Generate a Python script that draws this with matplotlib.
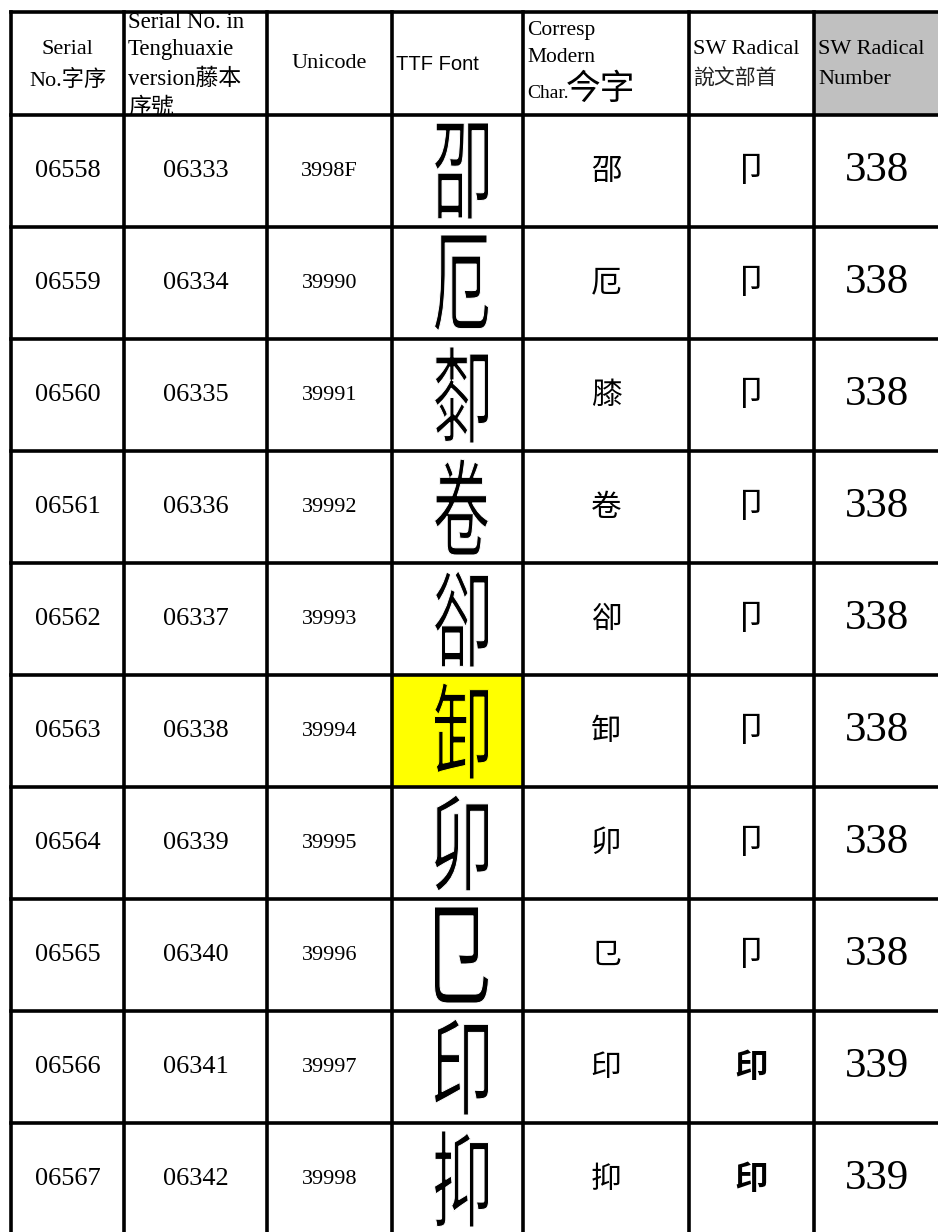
import matplotlib
matplotlib.use("Agg")
import matplotlib.pyplot as plt
from matplotlib.patches import Rectangle, PathPatch
from matplotlib.textpath import TextPath
from matplotlib.font_manager import FontProperties
from matplotlib.transforms import Affine2D

# table data
serial_no = ["06558", "06559", "06560", "06561", "06562",
             "06563", "06564", "06565", "06566", "06567"]
teng_no = ["06333", "06334", "06335", "06336", "06337",
           "06338", "06339", "06340", "06341", "06342"]
unicode_pts = ["3998F", "39990", "39991", "39992", "39993",
               "39994", "39995", "39996", "39997", "39998"]
seal_chars = ["卲", "厄", "厀", "卷", "卻", "卸", "卯", "㔾", "印", "抑"]  # stand-ins for the seal glyphs
modern_chars = ["邵", "厄", "膝", "卷", "卻", "卸", "卯", "㔾", "印", "抑"]
sw_radical = ["卩", "卩", "卩", "卩", "卩", "卩", "卩", "卩", "印", "印"]
radical_num = [338, 338, 338, 338, 338, 338, 338, 338, 339, 339]
highlight_row = 5

col_x = [11, 124, 267, 392, 523, 689, 814, 940]
top, head_bot, row_h = 12, 115, 112

SERIF = ["Liberation Serif", "Noto Sans CJK TC", "DejaVu Sans"]
SANS = ["Liberation Sans", "Noto Sans CJK TC", "DejaVu Sans"]
CJK = ["Noto Sans CJK TC", "DejaVu Sans"]

fig = plt.figure(figsize=(9.38, 12.32), dpi=100)
ax = fig.add_axes([0, 0, 1, 1])
ax.set_xlim(0, 938)
ax.set_ylim(1232, 0)
ax.axis("off")

n = len(serial_no)
row_tops = [head_bot + i * row_h for i in range(n)]
bottom = head_bot + n * row_h

# header shading
ax.add_patch(Rectangle((col_x[6], top), col_x[7] - col_x[6], head_bot - top,
                       facecolor="#c0c0c0", edgecolor="none", zorder=0))
ax.add_patch(Rectangle((col_x[3], row_tops[highlight_row]), col_x[4] - col_x[3], row_h,
                       facecolor="#ffff00", edgecolor="none", zorder=0))

def cx(c):
    return (col_x[c] + col_x[c + 1]) / 2

def head_text(x, y, s, c, ha="center", fam=SERIF, size=16, **kw):
    t = ax.text(x, y, s, ha=ha, va="center", family=fam, fontsize=size, **kw)
    clip = Rectangle((col_x[c], top), col_x[c + 1] - col_x[c], head_bot - top,
                     transform=ax.transData, visible=False)
    ax.add_patch(clip)
    t.set_clip_path(clip)
    return t

# header
head_text(cx(0), 50, "Serial", 0)
head_text(cx(0), 80, "No.字序", 0)
for y, s in zip([22, 50, 79, 108], ["Serial No. in", "Tenghuaxie", "version藤本", "序號"]):
    head_text(col_x[1] + 4, y, s, 1, ha="left", size=16.5)
head_text(cx(2), 64, "Unicode", 2)
head_text(col_x[3] + 4, 64, "TTF Font", 3, ha="left", fam=SANS, size=14.5)
head_text(col_x[4] + 4, 31, "Corresp", 4, ha="left", size=15.5)
head_text(col_x[4] + 4, 58, "Modern", 4, ha="left", size=15.5)
head_text(col_x[4] + 4, 93, "Char.", 4, ha="left", size=14)
head_text(col_x[4] + 43, 89, "今字", 4, ha="left", fam=CJK, size=25, fontweight="light")
head_text(col_x[5] + 4, 50, "SW Radical", 5, ha="left", size=16)
head_text(col_x[5] + 4, 79, "說文部首", 5, ha="left", fam=CJK, size=15, fontweight="light", color="#222222")
head_text(col_x[6] + 4, 50, "SW Radical", 6, ha="left", size=16)
head_text(col_x[6] + 4, 80, "Number", 6, ha="left", size=16)

seal_font = FontProperties(family="Noto Sans CJK TC")

for i in range(n):
    yc = row_tops[i] + row_h / 2
    ax.text(cx(0), yc, serial_no[i], ha="center", va="center", family=SERIF, fontsize=19)
    ax.text(cx(1), yc, teng_no[i], ha="center", va="center", family=SERIF, fontsize=19)
    ax.text(cx(2), yc, unicode_pts[i], ha="center", va="center", family=SERIF, fontsize=16)
    # seal glyph stand-in: stretched outline of the character, thinned by a background edge
    tp = TextPath((0, 0), seal_chars[i], size=1, prop=seal_font)
    ext = tp.get_extents()
    w, h = 54, 96
    tr = (Affine2D().translate(-ext.x0 - ext.width / 2, -ext.y0 - ext.height / 2)
          .scale(w / ext.width, -h / ext.height)
          .translate(cx(3) + 4, row_tops[i] + 8 + h / 2))
    bg = "#ffff00" if i == highlight_row else "white"
    ax.add_patch(PathPatch(tr.transform_path(tp), facecolor="black",
                           edgecolor=bg, lw=0.7, zorder=3))
    ax.text(cx(4), yc, modern_chars[i], ha="center", va="center", family=CJK,
            fontsize=22, fontweight="light")
    if sw_radical[i] == "印":
        ax.text(cx(5), yc, sw_radical[i], ha="center", va="center", family=CJK,
                fontsize=24, fontweight="bold")
    else:
        ax.text(cx(5), yc, sw_radical[i], ha="center", va="center", family=CJK,
                fontsize=25, fontweight="light")
    ax.text(cx(6), yc, str(radical_num[i]), ha="center", va="center", family=SERIF, fontsize=31)

# grid lines
lw = 2.6
for x in col_x[:-1]:
    ax.plot([x, x], [top, bottom], color="black", lw=lw, solid_capstyle="projecting", zorder=4)
for y in [top, head_bot] + row_tops[1:] + [bottom]:
    ax.plot([col_x[0], col_x[-1]], [y, y], color="black", lw=lw, solid_capstyle="projecting", zorder=4)

fig.savefig("out.png", dpi=100)
